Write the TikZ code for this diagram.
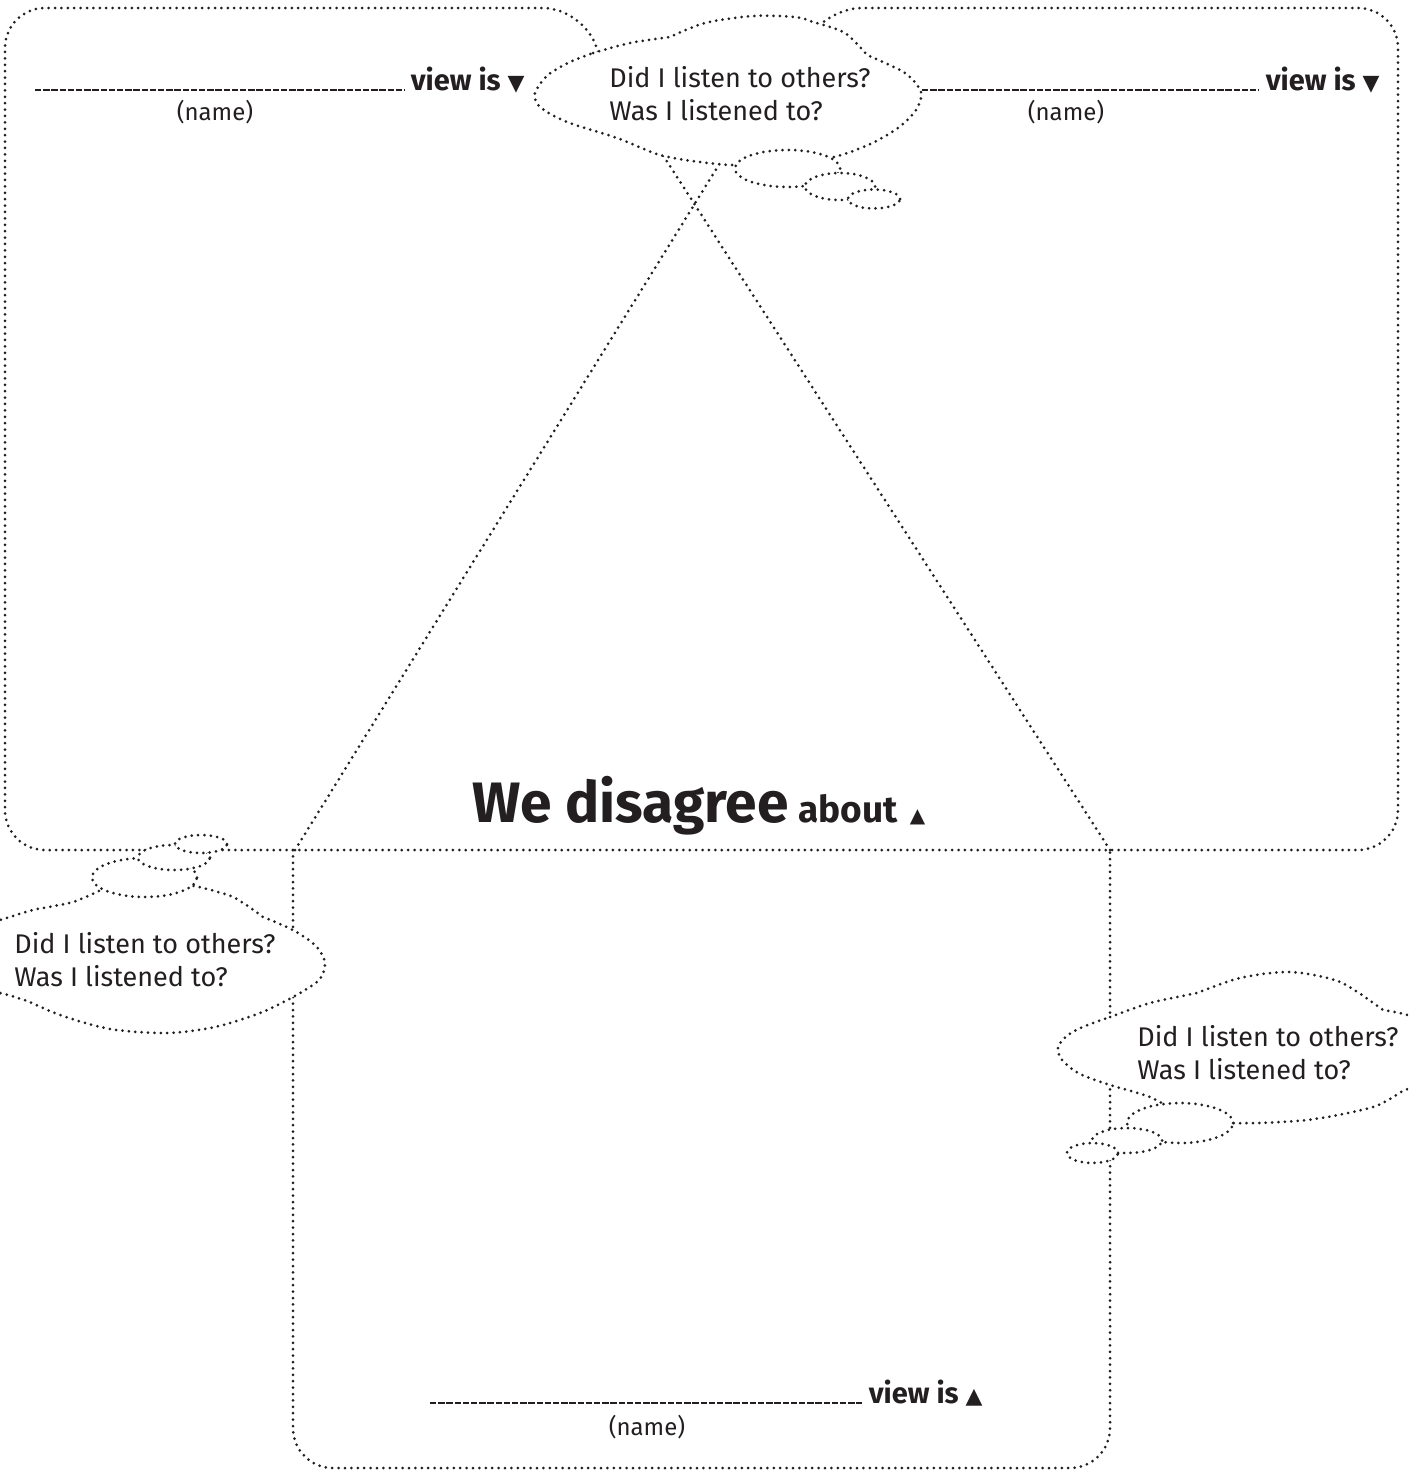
\documentclass[tikz,border=0pt]{standalone}
\usepackage{fontspec}
\IfFontExistsTF{FiraSans-Light.otf}
  {\setmainfont{FiraSans}[Extension=.otf, UprightFont=*-Light, BoldFont=*-Bold]}
  {\setmainfont{Fira Sans}}
\IfFontExistsTF{FiraSans-ExtraBold.otf}
  {\newfontfamily\headfont{FiraSans}[Extension=.otf, UprightFont=*-ExtraBold]}
  {\newfontfamily\headfont{Fira Sans}[UprightFont=*-Bold]}
\newfontfamily\symfont{DejaVu Sans}
\usepackage{xcolor}
\definecolor{inkDark}{HTML}{231F20}
\usepackage{tikz}
\usetikzlibrary{
    positioning,
    calc
}
\tikzset{
    % dotted outline used for panels, lines and thought bubbles
    dotline/.style={
        draw=inkDark,
        line width=1.5pt,
        line cap=round,
        dash pattern=on 0pt off 3.2pt,
    },
    % thought bubbles and their small puffs
    puff/.style={
        dotline,
        fill=white,
    },
    % the blank to write a name on
    blank line/.style={
        draw=inkDark,
        line width=0.8pt,
        dash pattern=on 3.2pt off 0.9pt,
    },
    % question text inside the bubbles
    thought text/.style={
        font=\fontsize{13.5}{16.5}\selectfont,
        text=inkDark,
        align=left,
        inner sep=0pt,
        anchor=west,
    },
    % "view is" after the blank
    view label/.style={
        font=\fontsize{14.5}{16}\selectfont\bfseries,
        text=inkDark,
        inner sep=3pt,
        anchor=base east,
    },
    % "(name)" under the blank
    name label/.style={
        font=\fontsize{12}{14}\selectfont,
        text=inkDark,
        inner sep=0pt,
    },
    % heading in the middle
    title text/.style={
        text=inkDark,
        inner sep=0pt,
        anchor=base west,
    },
}

\begin{document}
\begin{tikzpicture}[x=0.5pt, y=0.5pt]
    \clip (0,0) rectangle (1408,-1472);

    % upper sheet with the two side panels
    \draw[dotline, rounded corners=20] (602,-64) -- (583,-8) -- (5,-8) -- (5,-850)
        -- (1398,-850) -- (1398,-8) -- (822,-8) -- (806,-40);
    % lower panel
    \draw[dotline, rounded corners=20] (293,-850) -- (293,-1468) -- (1110,-1468) -- (1110,-850);

    % slanted lines from the bubble down to the lower panel
    \coordinate (baseL) at (295,-850);
    \coordinate (baseR) at (1110,-850);
    \coordinate (tipL) at (741,-129);
    \coordinate (tipR) at (650,-135);
    \draw[dotline] (baseL) -- (tipL);
    \draw[dotline] (baseR) -- (tipR);

    % top bubble
    \path[puff] plot[smooth] coordinates {(593,-53) (630,-43) (670,-37)}
        -- plot[smooth] coordinates {(670,-37) (705,-23) (753,-16) (795,-17) (813,-22)}
        -- plot[smooth] coordinates {(813,-22) (845,-33) (867,-55)}
        -- plot[smooth] coordinates {(867,-55) (905,-73) (921,-92) (916,-110) (898,-128)
            (868,-145) (830,-158) (780,-164) (733,-165) (700,-162) (660,-155) (617,-138)
            (567,-122) (540,-107) (535,-93) (548,-75) (570,-62) (593,-53)} -- cycle;
    \path[puff] (787.5,-168.5) ellipse [x radius=52.5, y radius=18.5];
    \path[puff] (840,-186.5) ellipse [x radius=35, y radius=13.5];
    \path[puff] (874,-199) ellipse [x radius=26, y radius=9.5];

    % left bubble
    \path[puff] plot[smooth] coordinates {(-30,-928) (0,-920) (33,-910) (73,-902) (105,-888)}
        -- plot[smooth] coordinates {(105,-888) (150,-882) (195,-886)}
        -- plot[smooth] coordinates {(195,-886) (233,-897) (263,-917)}
        -- plot[smooth] coordinates {(263,-917) (293,-930) (316,-946) (325,-963) (319,-980)
            (293,-997) (260,-1013) (215,-1027) (167,-1033) (110,-1029) (60,-1015)
            (27,-1001) (0,-993) (-30,-988)} -- cycle;
    \path[puff] (144.5,-877.5) ellipse [x radius=52.5, y radius=19.5];
    \path[puff] (174,-857.5) ellipse [x radius=36, y radius=12.5];
    \path[puff] (201,-844) ellipse [x radius=26, y radius=9];

    % right bubble
    \path[puff] plot[smooth] coordinates {(1110,-1017) (1150,-1003) (1197,-993)}
        -- plot[smooth] coordinates {(1197,-993) (1240,-978) (1290,-972) (1340,-982) (1383,-1010)}
        -- plot[smooth] coordinates {(1383,-1010) (1410,-1016) (1432,-1032) (1440,-1058)
            (1430,-1082) (1405,-1090) (1373,-1107) (1307,-1120) (1233,-1123) (1185,-1115)
            (1150,-1097) (1110,-1085) (1080,-1074) (1062,-1060) (1058,-1047) (1068,-1035)
            (1085,-1026) (1110,-1017)} -- cycle;
    \path[puff] (1180,-1123) ellipse [x radius=53, y radius=20];
    \path[puff] (1127,-1140.5) ellipse [x radius=35, y radius=12.5];
    \path[puff] (1092.5,-1153) ellipse [x radius=25.5, y radius=10];

    % bubble questions
    \node[thought text] (thinkTop) at (609,-94) {Did I listen to others?\\Was I listened to?};
    \node[thought text] (thinkLeft) at (14,-960) {Did I listen to others?\\Was I listened to?};
    \node[thought text] (thinkRight) at (1137,-1053) {Did I listen to others?\\Was I listened to?};

    % left panel blank
    \node[view label] (viewL) at (531,-90) {view is\hspace{3.5pt}{\symfont\fontsize{11}{11}\selectfont ▼}};
    \coordinate (lineL) at (35,-90);
    \draw[blank line] (lineL) -- (lineL -| viewL.west);
    \node[name label] (nameL) at (215,-112) {(name)};

    % right panel blank
    \node[view label] (viewR) at (1386,-90) {view is\hspace{3.5pt}{\symfont\fontsize{11}{11}\selectfont ▼}};
    \coordinate (lineR) at (922,-90);
    \draw[blank line] (lineR) -- (lineR -| viewR.west);
    \node[name label] (nameR) at (1066,-112) {(name)};

    % lower panel blank
    \node[view label] (viewB) at (989,-1403) {view is\hspace{3.5pt}{\symfont\fontsize{11}{11}\selectfont ▲}};
    \coordinate (lineB) at (430,-1403);
    \draw[blank line] (lineB) -- (lineB -| viewB.west);
    \node[name label] (nameB) at (647,-1427) {(name)};

    % heading
    \node[title text] (title) at (472,-822) {{\headfont\fontsize{28.5}{30}\selectfont We disagree}\hspace{5pt}%
        {\headfont\fontsize{18.5}{20}\selectfont about}\hspace{6pt}{\symfont\fontsize{10}{10}\selectfont ▲}};
\end{tikzpicture}
\end{document}
